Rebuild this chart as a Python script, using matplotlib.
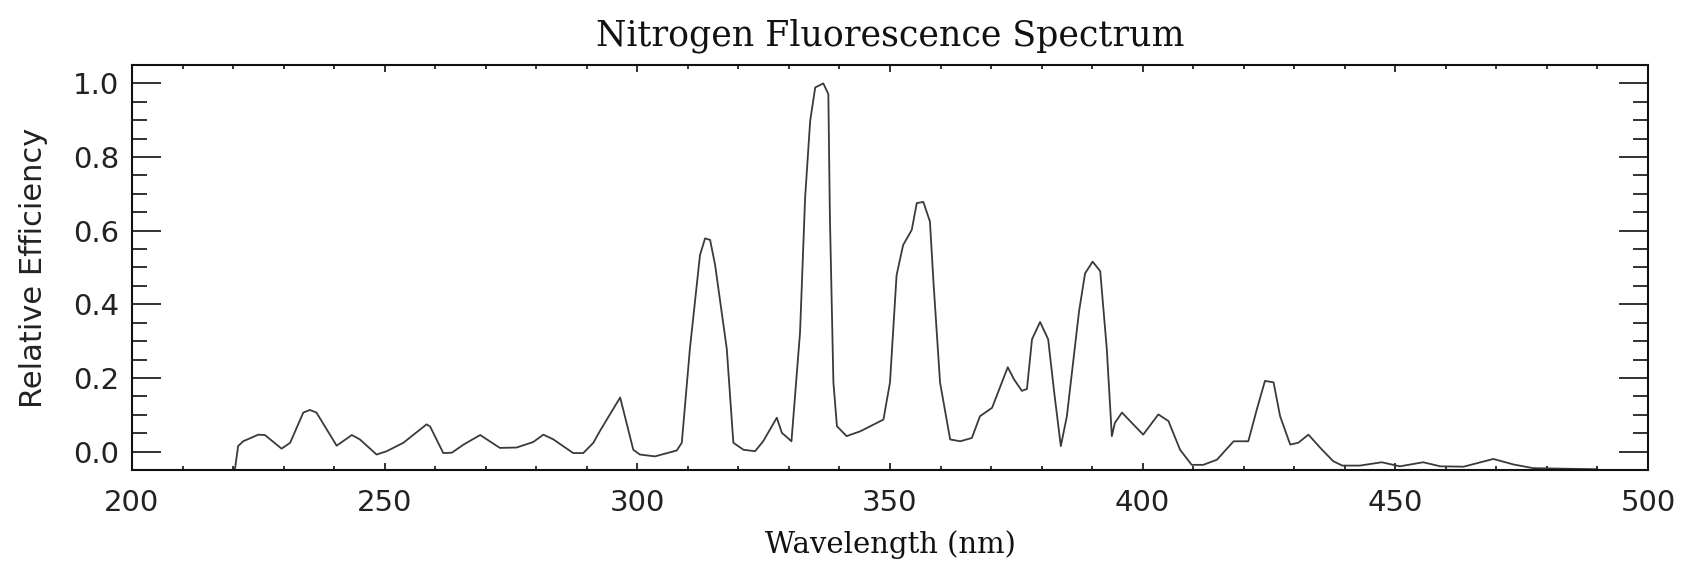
import matplotlib.pyplot as plt
from matplotlib.ticker import MultipleLocator

# Data
wavelength = [220.0, 220.4, 221.0, 222.0, 225.0, 226.3, 229.6, 231.3, 233.9, 235.2,
              236.5, 240.5, 243.5, 245.1, 248.4, 250.4, 253.7, 258.3, 259.0, 261.6,
              263.3, 265.6, 268.9, 272.8, 276.1, 279.4, 281.4, 283.4, 287.3, 289.3,
              291.3, 292.6, 296.6, 299.2, 300.5, 303.5, 307.8, 308.8, 310.4, 312.4,
              313.4, 314.4, 315.4, 317.7, 319.0, 321.0, 323.3, 324.9, 327.6, 328.6,
              330.5, 332.2, 333.2, 334.2, 335.2, 336.8, 337.8, 338.1, 338.8, 339.5,
              341.4, 344.1, 348.7, 350.0, 351.3, 352.6, 354.3, 355.3, 356.6, 357.9,
              358.6, 359.9, 361.9, 363.9, 366.2, 367.8, 370.2, 373.3, 374.6, 376.1,
              377.1, 378.1, 379.7, 381.3, 382.5, 383.8, 385.0, 387.4, 388.6, 390.1,
              391.6, 392.9, 393.9, 394.5, 395.9, 400.1, 403.1, 405.1, 407.4, 409.7,
              412.0, 414.7, 418.0, 420.9, 422.6, 424.2, 425.9, 427.2, 429.2, 430.8,
              432.8, 435.3, 437.7, 439.5, 443.0, 447.3, 450.9, 455.5, 458.9, 463.5,
              469.4, 473.4, 477.3, 490.0]
efficiency = [-0.050, -0.045, 0.015, 0.028, 0.046, 0.045, 0.008, 0.024, 0.106, 0.113,
              0.106, 0.016, 0.045, 0.033, -0.008, 0.001, 0.024, 0.074, 0.068, -0.004,
              -0.003, 0.019, 0.045, 0.010, 0.011, 0.026, 0.046, 0.033, -0.004, -0.004,
              0.024, 0.056, 0.147, 0.005, -0.008, -0.013, 0.003, 0.024, 0.279, 0.534,
              0.579, 0.575, 0.506, 0.279, 0.024, 0.005, 0.001, 0.028, 0.092, 0.051,
              0.028, 0.324, 0.689, 0.898, 0.989, 1.000, 0.971, 0.643, 0.188, 0.069,
              0.042, 0.055, 0.087, 0.188, 0.479, 0.561, 0.602, 0.675, 0.678, 0.625,
              0.461, 0.188, 0.033, 0.028, 0.037, 0.096, 0.119, 0.229, 0.195, 0.165,
              0.170, 0.305, 0.352, 0.305, 0.160, 0.015, 0.096, 0.380, 0.484, 0.516,
              0.490, 0.279, 0.042, 0.078, 0.106, 0.046, 0.101, 0.083, 0.005, -0.036,
              -0.036, -0.022, 0.028, 0.028, 0.115, 0.192, 0.188, 0.096, 0.019, 0.024,
              0.046, 0.008, -0.026, -0.038, -0.038, -0.029, -0.040, -0.029, -0.040, -0.041,
              -0.020, -0.035, -0.045, -0.048]

fig = plt.figure(figsize=(16.86, 5.63), dpi=100)
ax = fig.add_axes([132 / 1686, 1 - 470 / 563, 1516 / 1686, 405 / 563])

ax.plot(wavelength, efficiency, color='#3a3a3a', linewidth=1.3)

ax.set_xlim(200, 500)
ax.set_ylim(-0.05, 1.05)

ax.xaxis.set_major_locator(MultipleLocator(50))
ax.xaxis.set_minor_locator(MultipleLocator(10))
ax.yaxis.set_major_locator(MultipleLocator(0.2))
ax.yaxis.set_minor_locator(MultipleLocator(0.05))
ax.yaxis.set_major_formatter(plt.FormatStrFormatter('%.1f'))

for side in ax.spines.values():
    side.set_linewidth(1.5)
    side.set_color('#111111')

ax.tick_params(axis='both', which='both', direction='in', top=True, right=True,
               color='#222222', width=1.3, labelcolor='#222222')
ax.tick_params(axis='x', which='major', length=5, labelsize=21, pad=14)
ax.tick_params(axis='x', which='minor', length=3)
ax.tick_params(axis='y', which='major', length=21, labelsize=21, pad=9)
ax.tick_params(axis='y', which='minor', length=11)

ax.set_title('Nitrogen Fluorescence Spectrum', family='DejaVu Serif',
             fontsize=25, pad=14, color='#111111')
ax.set_xlabel('Wavelength (nm)', family='DejaVu Serif', fontsize=21,
              labelpad=9, color='#111111')
ax.set_ylabel('Relative Efficiency', fontsize=22, labelpad=18, color='#222222')

fig.savefig('out.png', dpi=100)
